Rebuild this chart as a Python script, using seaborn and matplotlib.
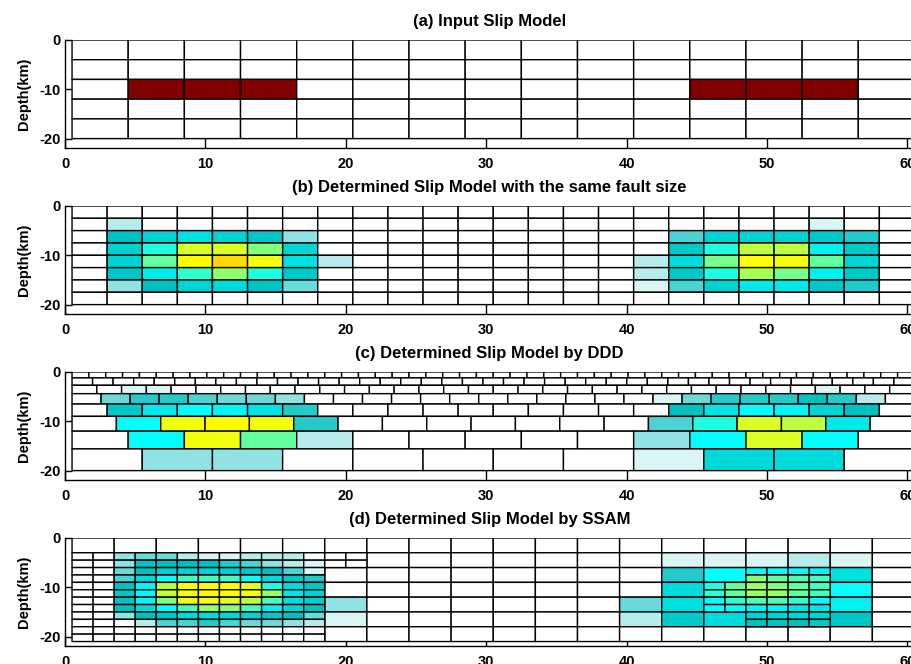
import numpy as np
import matplotlib
matplotlib.use("Agg")
import matplotlib.pyplot as plt
from matplotlib.colors import LinearSegmentedColormap
import seaborn as sns

sns.set_theme(style="ticks")
plt.rcParams['font.family'] = ['Liberation Sans', 'DejaVu Sans']
plt.rcParams['axes.unicode_minus'] = False

# ------------------------------------------------------------------ data
titles = ["(a) Input Slip Model",
          "(b) Determined Slip Model with the same fault size",
          "(c) Determined Slip Model by DDD",
          "(d) Determined Slip Model by SSAM"]
x_ticks = [0, 10, 20, 30, 40, 50, 60]
y_ticks = [0, -10, -20]
fault_start, fault_end = 0.5, 60.5  # km along strike

# (a) input model: 4 km x 4 km cells, slip in % of max
input_depths = [0, -4, -8, -12, -16, -20]
input_slip = [
    [0] * 15,
    [0] * 15,
    [0, 100, 100, 100, 0, 0, 0, 0, 0, 0, 0, 100, 100, 100, 0],
    [0] * 15,
    [0] * 15,
]

# (b) same fault size: 2.5 km x 2.5 km cells
same_depths = [0, -2.5, -5, -7.5, -10, -12.5, -15, -17.5, -20]
same_slip = [
    [0] * 24,
    [0, 7.5] + [0] * 19 + [4, 0, 0],
    [0, 26, 29, 32, 29, 27, 11.5, 0] + [0] * 8 + [0, 18.7, 29, 29, 29, 27.6, 22.4, 0],
    [0, 29, 40.6, 58.7, 58.7, 50, 30, 0] + [0] * 8 + [0, 27.6, 40.6, 56.2, 56.2, 34.8, 27.6, 0],
    [0, 29, 46.9, 62.5, 66.3, 61, 32, 7.5] + [0] * 8 + [7.5, 31, 49, 62.5, 61.5, 46.9, 30, 0],
    [0, 27, 34, 42.2, 51.6, 40.6, 27.6, 0] + [0] * 8 + [7.5, 27.6, 40.6, 54, 49, 34.8, 27.6, 0],
    [0, 11.5, 26, 29.7, 30.5, 26.9, 15.5, 0] + [0] * 8 + [4, 18.7, 29, 33.3, 33.3, 27.6, 22.4, 0],
    [0] * 24,
]

# (c) DDD: rows of growing thickness, each with its own number of cells
ddd_depths = [0, -1.2, -2.7, -4.4, -6.5, -9.0, -12.0, -15.6, -20.0]
ddd_ncells = [50, 41, 34, 29, 24, 19, 15, 12]
ddd_slip = [  # non-zero cells only: {cell index: slip}
    {},
    {},
    {2: 4, 3: 4, 30: 4},
    {1: 15.5, 2: 22.4, 3: 22.4, 4: 18.7, 5: 15.5, 6: 15.5, 7: 11.5,
     20: 4, 21: 15.5, 22: 22.4, 23: 22.4, 24: 22.4, 25: 26, 26: 22.4, 27: 7.5},
    {1: 27.6, 2: 33.3, 3: 37.5, 4: 36, 5: 32.5, 6: 22.4,
     17: 26, 18: 32.5, 19: 37.5, 20: 36, 21: 30, 22: 26},
    {1: 37.5, 2: 61, 3: 62.5, 4: 61, 5: 22.4,
     13: 18.7, 14: 40.6, 15: 58.7, 16: 56.2, 17: 33.3},
    {1: 37.5, 2: 61, 3: 46.9, 4: 7.5, 10: 11.5, 11: 37.5, 12: 58.7, 13: 37.5},
    {1: 11.5, 2: 11.5, 8: 4, 9: 30.5, 10: 31},
]

# (d) SSAM: 3 km coarse cells (nan = cell split into 1.5 km sub-cells)
N = np.nan
ssam_depths = [0, -3, -6, -9, -12, -15, -18, -21]
ssam_coarse = [
    [0] * 20,
    [N] * 7 + [0] * 7 + [4, 4, 4, 7.5, 4, 0],
    [N] * 6 + [0] * 8 + [22.4, 37.5, N, N, 32, 0],
    [N] * 6 + [0] * 8 + [31, N, N, N, 37.5, 0],
    [N] * 6 + [11.5] + [0] * 6 + [15.5, 32, N, N, N, 35, 0],
    [N] * 6 + [4] + [0] * 6 + [7.5, 28, 31, N, N, 27, 0],
    [N] * 6 + [0] * 14,
]
# left refined block: depth -3..-21 km, strike 0.5..18.5 km (1.5 km cells)
ssam_fine_left = [
    [0, 0, 11.5, 15.5, 15.5, 7.5, 4, 4, 7.5, 7.5, 7.5, 0],
    [0, 0, 11.5, 26.9, 26, 26, 26.9, 22.4, 18.7, 11.5, 7.5, 4],
    [0, 0, 15.5, 26, 29, 29, 29.7, 29, 27.6, 26, 18.7, 4],
    [0, 0, 18.7, 30.5, 37.5, 44, 44, 44, 37.5, 31, 27.6, 22.4],
    [0, 0, 26.9, 36, 55, 62.5, 62.5, 62.5, 60, 40.6, 31, 27.6],
    [0, 0, 27.6, 36, 57, 61, 62.5, 62.5, 61, 51.6, 32.5, 29],
    [0, 0, 26.9, 36, 50, 61, 61, 59, 56, 44, 32, 29],
    [0, 0, 26, 31, 37.5, 44, 51.6, 50, 44, 35, 29.7, 26.9],
    [0, 0, 11.5, 26, 27.6, 30.5, 31, 30.5, 29.7, 27.6, 26, 15.5],
    [0, 0, 0, 7.5, 18.7, 18.7, 22.4, 18.7, 15.5, 15.5, 11.5, 7.5],
    [0] * 12,
    [0] * 12,
]
# small refined block: depth -3..-6 km, strike 18.5..21.5 km
ssam_fine_mid = [[0, 0], [0, 0]]
# right refined block: depth -6..-18 km, strike 45.5..54.5 km
ssam_fine_right = [
    [N, N, 37.5, 37.5, 37.5, 36],
    [N, N, 50, 47, 45, 44],
    [41, 47, 52, 50, 47, 44],
    [42, 47, 53, 53, 47, 44],
    [37.5, 42, 45, 45, 42, 37.5],
    [37.5, 37.5, 36, 36, 33, 33],
    [N, N, 30, 30, 29.7, 29],
    [N, N, 26, 27, 26, 28],
]

# ------------------------------------------------------------------ style
cmap = LinearSegmentedColormap.from_list("slip", [
    (0.0, "#ffffff"), (0.04, "#daf4f4"), (0.26, "#00c0c0"),
    (0.375, "#00ffff"), (0.625, "#ffff00"), (0.875, "#ff0000"),
    (1.0, "#800000")], N=256)
mesh_kw = dict(cmap=cmap, vmin=0, vmax=100, edgecolors="black", linewidth=1.0)

fig = plt.figure(figsize=(9.12, 6.64), dpi=100)
bottoms = [0.7764, 0.5264, 0.2764, 0.0264]
axes = [fig.add_axes([0.0713, b, 0.9314, 0.1634]) for b in bottoms]


def edges(n):
    return np.linspace(fault_start, fault_end, n + 1)


# (a)
a = np.array(input_slip, float)
axes[0].pcolor(edges(a.shape[1]), input_depths, a, **mesh_kw)
# (b)
b = np.array(same_slip, float)
axes[1].pcolor(edges(b.shape[1]), same_depths, b, **mesh_kw)
# (c)
for i, (n, vals) in enumerate(zip(ddd_ncells, ddd_slip)):
    row = np.zeros((1, n))
    for k, v in vals.items():
        row[0, k] = v
    axes[2].pcolor(edges(n), ddd_depths[i:i + 2], row, **mesh_kw)
# (d)
coarse = np.array(ssam_coarse, float)
axes[3].pcolor(edges(coarse.shape[1]), ssam_depths,
               np.ma.masked_invalid(coarse), **mesh_kw)
fine = np.full((14, 40), np.nan)
fine[2:14, 0:12] = ssam_fine_left
fine[2:4, 12:14] = ssam_fine_mid
fine[4:12, 30:36] = ssam_fine_right
fine_depths = np.linspace(ssam_depths[0], ssam_depths[-1], 15)
axes[3].pcolor(edges(40), fine_depths, np.ma.masked_invalid(fine), **mesh_kw)

for ax, t in zip(axes, titles):
    ax.set_xlim(0, 60.5)
    ax.set_ylim(-22, 0)
    ax.set_xticks(x_ticks)
    ax.set_yticks(y_ticks)
    ax.set_xticklabels([str(v) for v in x_ticks])
    ax.set_yticklabels([str(v) for v in y_ticks])
    sns.despine(ax=ax)
    for s in ("left", "bottom"):
        ax.spines[s].set_color("black")
        ax.spines[s].set_linewidth(1.0)
    ax.tick_params(axis="x", direction="in", length=7, width=1, pad=6,
                   labelsize=10.5, color="black", labelcolor="black")
    ax.tick_params(axis="y", direction="in", length=5, width=1, pad=3,
                   labelsize=10.5, color="black", labelcolor="black")
    for lab in ax.get_xticklabels() + ax.get_yticklabels():
        lab.set_fontweight("bold")
    ax.set_title(t, fontsize=12, fontweight="bold", pad=10, color="black")
    ax.set_ylabel("Depth(km)", fontsize=10.5, fontweight="bold",
                  labelpad=6, color="black")
    ax.set_facecolor("white")

fig.savefig("out.png", dpi=100, facecolor="white")
